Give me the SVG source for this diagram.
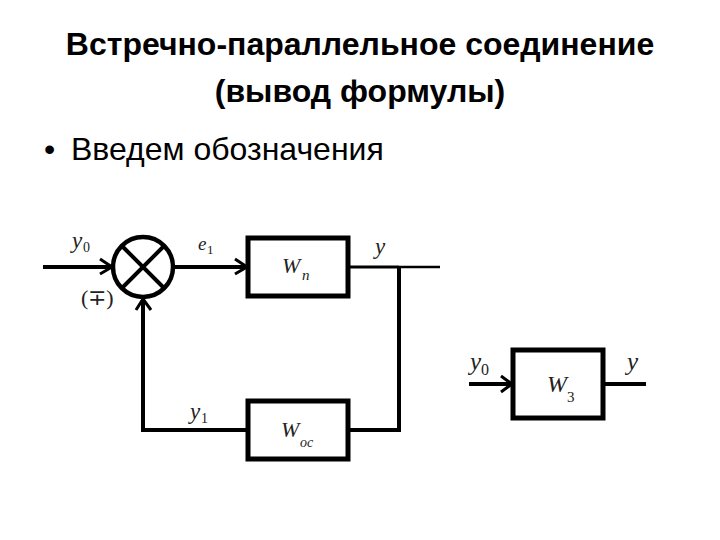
<svg xmlns="http://www.w3.org/2000/svg" width="720" height="540" viewBox="0 0 720 540">
<style>
.t{font-family:"Liberation Sans",Arial,sans-serif;fill:#000}
.h{font-size:32px;font-weight:700;text-anchor:middle}
.m{font-family:"Liberation Serif","Times New Roman",serif;font-style:italic;fill:#222}
.d{font-family:"Liberation Serif","Times New Roman",serif;fill:#222}
.b{fill:#fff;stroke:#000;stroke-width:5}
.l{fill:none;stroke:#000;stroke-width:4}
.a{fill:none;stroke:#000;stroke-width:3}
</style>
<rect width="720" height="540" fill="#fff"/>
<g id="title">
<text class="t h" x="360" y="55">Встречно-параллельное соединение</text>
<text class="t h" x="360" y="102">(вывод формулы)</text>
</g>
<g id="bullet">
<text class="t" x="44" y="160" font-size="32">•</text>
<text class="t" x="71" y="160" font-size="32">Введем обозначения</text>
</g>
<g id="connectors">
<path class="l" d="M43 267H112"/>
<path class="a" d="M100 259L112 267L100 274"/>
<path class="l" d="M174 267H246"/>
<path class="a" d="M235 259L247 267L235 274"/>
<path class="l" d="M348 267H399" style="stroke-width:3"/>
<path class="l" d="M399 267H440" style="stroke-width:2.5"/>
<path class="l" d="M399 267V430H348"/>
<path class="l" d="M248 430H143V298"/>
<path class="a" d="M136 310L143 299L151 310"/>
<path class="l" d="M469 384H511"/>
<path class="a" d="M501 376L512 384L501 392"/>
<path class="l" d="M603 384H646"/>
</g>
<g id="sum">
<circle cx="143" cy="267" r="30" fill="#fff" stroke="#000" stroke-width="4.5"/>
<path d="M122 246L164 288M164 246L122 288" fill="none" stroke="#000" stroke-width="4"/>
</g>
<g id="wp">
<rect class="b" x="248" y="238" width="100" height="58"/>
<text class="m" x="282" y="273" font-size="22">W</text>
<text class="m" x="302" y="280" font-size="15">п</text>
</g>
<g id="woc">
<rect class="b" x="248" y="401" width="100" height="58"/>
<text class="m" x="281" y="437" font-size="22">W</text>
<text class="m" x="300" y="447" font-size="14">ос</text>
</g>
<g id="w3">
<rect class="b" x="513" y="350" width="90" height="68"/>
<text class="m" x="547" y="392" font-size="24">W</text>
<text class="d" x="567" y="402" font-size="15">3</text>
</g>
<g id="labels">
<text class="m" x="72" y="248" font-size="23">y</text>
<text class="d" x="83" y="252" font-size="14">0</text>
<text class="m" x="198" y="250" font-size="19">e</text>
<text class="d" x="207" y="254" font-size="13">1</text>
<text class="d" x="81" y="305" font-size="22">(∓)</text>
<text class="m" x="375" y="254" font-size="23">y</text>
<text class="m" x="190" y="419" font-size="23">y</text>
<text class="d" x="201" y="423" font-size="14">1</text>
<text class="m" x="470" y="370" font-size="25">y</text>
<text class="d" x="481" y="375" font-size="16">0</text>
<text class="m" x="627" y="370" font-size="25">y</text>
</g>
</svg>
